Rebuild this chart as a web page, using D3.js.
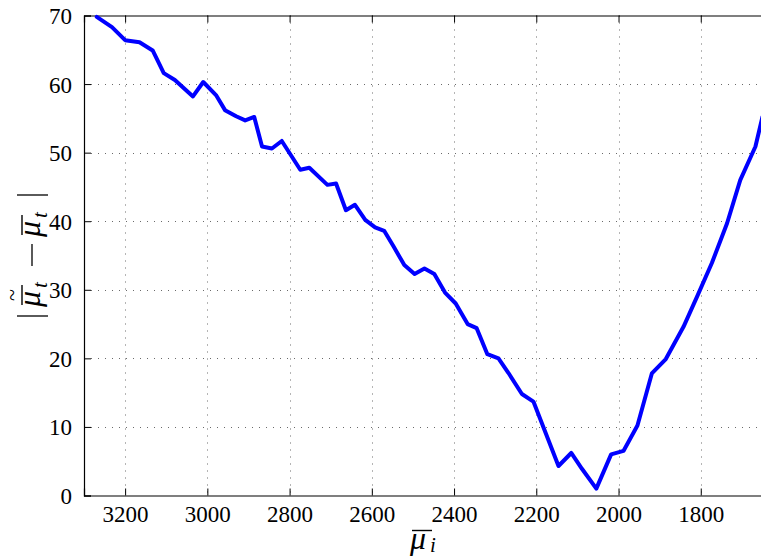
<!DOCTYPE html>
<html>
<head>
<meta charset="utf-8">
<script src="https://cdn.jsdelivr.net/npm/d3@7"></script>
<style>
html,body{margin:0;padding:0;background:#fff;overflow:hidden;}
svg{display:block;}
</style>
</head>
<body>
<svg id="chart" width="761" height="558"></svg>
<script>
// data
const muI = [3269,3232,3200,3165,3133,3106,3079,3035,3010,2979,2957,2930,2908,2886,2867,2843,2819,2774,2752,2708,2687,2663,2641,2616,2592,2570,2547,2521,2496,2472,2448,2422,2396,2367,2345,2319,2292,2268,2235,2207,2146,2115,2089,2054,2018,1988,1954,1919,1885,1842,1809,1773,1736,1704,1667,1650];
const absDiff = [69.8,68.3,66.4,66.1,64.9,61.6,60.6,58.2,60.3,58.4,56.2,55.3,54.7,55.2,50.9,50.6,51.7,47.5,47.8,45.3,45.5,41.6,42.4,40.2,39.1,38.6,36.3,33.6,32.3,33.1,32.3,29.6,28.0,25.0,24.4,20.6,20.0,17.9,14.8,13.7,4.3,6.2,3.9,1.0,6.0,6.5,10.2,17.8,19.9,24.6,29.0,33.9,39.7,46.0,50.9,55.2];
const xTicks = [3200,3000,2800,2600,2400,2200,2000,1800];
const yTicks = [0,10,20,30,40,50,60,70];

const FONT = "'Liberation Serif'";
const svg = d3.select("#chart");
const L = 84, R = 783, T = 15.5, B = 495.5;
const x = d3.scaleLinear().domain([3300,1600]).range([L,R]);
const y = d3.scaleLinear().domain([0,70]).range([B,T]);

// grid
const grid = svg.append("g").attr("stroke","#6a6a6a").attr("stroke-width",1).attr("stroke-dasharray","1,6");
grid.selectAll("line.v").data(xTicks).join("line")
  .attr("x1",d=>Math.round(x(d))+0.5).attr("x2",d=>Math.round(x(d))+0.5)
  .attr("y1",T).attr("y2",B);
grid.selectAll("line.h").data(yTicks.filter(d=>d>0&&d<70)).join("line")
  .attr("y1",d=>Math.round(y(d))+0.5).attr("y2",d=>Math.round(y(d))+0.5)
  .attr("x1",L).attr("x2",R);

// axes
const axB = svg.append("g").attr("transform",`translate(0,${B})`)
  .call(d3.axisBottom(x).tickValues(xTicks).tickSize(-7).tickPadding(10).tickFormat(d3.format("d")));
const axT = svg.append("g").attr("transform",`translate(0,${T})`)
  .call(d3.axisTop(x).tickValues(xTicks).tickSize(-7).tickFormat(""));
const axL = svg.append("g").attr("transform",`translate(${L},0)`)
  .call(d3.axisLeft(y).tickValues(yTicks).tickSize(-7).tickPadding(12).tickFormat(d3.format("d")));
[axB,axT,axL].forEach(a=>{
  a.attr("font-family",null).attr("font-size",null);
  a.select(".domain").attr("stroke","#000").attr("stroke-width",1.2);
  a.selectAll(".tick line").attr("stroke","#000").attr("stroke-width",1);
  a.selectAll("text").style("font-family",FONT).style("font-size","23px").attr("fill","#000");
});
axB.selectAll("text").attr("dy","0.72em");
axL.selectAll("text").attr("dy","0.35em");

// line
svg.append("path")
  .datum(muI.map((d,i)=>[d,absDiff[i]]))
  .attr("fill","none").attr("stroke","#0000ff").attr("stroke-width",4)
  .attr("stroke-linejoin","round").attr("stroke-linecap","round")
  .attr("d",d3.line().x(d=>x(d[0])).y(d=>y(d[1])));

function txt(g, xx, yy, size, s, italic, anchor){
  return g.append("text").attr("x",xx).attr("y",yy)
    .style("font-family",FONT).style("font-size",size+"px")
    .style("font-style",italic?"italic":"normal")
    .attr("text-anchor",anchor||"start").text(s);
}

// x label
const xl = svg.append("g");
txt(xl,410,549,32,"μ",true);
xl.append("line").attr("x1",412).attr("x2",432).attr("y1",530.5).attr("y2",530.5).attr("stroke","#000").attr("stroke-width",1.4);
txt(xl,430,552,21,"i",true);

// y label (rotated)
const yl = svg.append("g").attr("transform","translate(40,316) rotate(-90)");
const bar = (px)=>yl.append("line").attr("x1",px).attr("x2",px).attr("y1",-23).attr("y2",8).attr("stroke","#000").attr("stroke-width",1.3);
bar(0);
txt(yl,9,0,32,"μ",true);
yl.append("line").attr("x1",11).attr("x2",31).attr("y1",-18).attr("y2",-18).attr("stroke","#000").attr("stroke-width",1.4);
txt(yl,21,-21,22,"~",false,"middle");
txt(yl,28,7,21,"t",true);
yl.append("line").attr("x1",50).attr("x2",72).attr("y1",-8).attr("y2",-8).attr("stroke","#000").attr("stroke-width",1.3);
txt(yl,79,0,32,"μ",true);
yl.append("line").attr("x1",81).attr("x2",101).attr("y1",-18).attr("y2",-18).attr("stroke","#000").attr("stroke-width",1.4);
txt(yl,98,7,21,"t",true);
bar(121);
</script>
</body>
</html>
